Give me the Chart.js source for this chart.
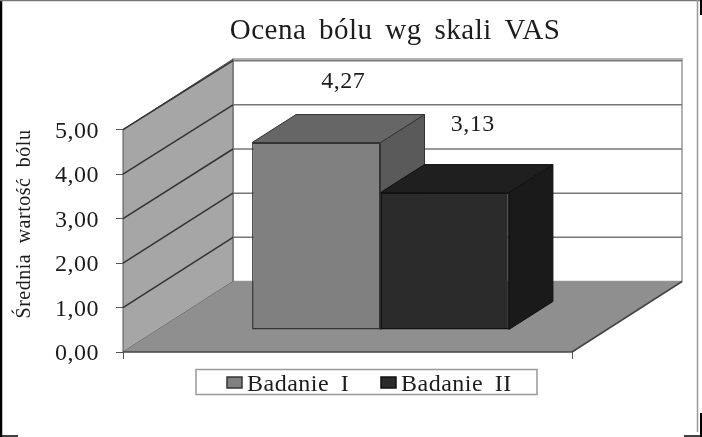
<!DOCTYPE html>
<html>
<head>
<meta charset="utf-8">
<script src="https://cdn.jsdelivr.net/npm/chart.js@4"></script>
<style>
  html, body { margin: 0; padding: 0; background: #fff; }
  #wrap { width: 702px; height: 437px; position: relative; }
</style>
</head>
<body>
<div id="wrap"><canvas id="vasChart"></canvas></div>
<script>
const chartTitle = 'Ocena bólu wg skali VAS';
const yAxisTitle = 'Średnia wartość bólu';
const categories = ['Ocena'];
const seriesNames = ['Badanie I', 'Badanie II'];
const seriesValues = [[4.27], [3.13]];
const yTicks = [0, 1, 2, 3, 4, 5];

const SERIF = '"Liberation Serif", serif';
const TEXT = '#1c1c1c';

// 3D look: how far the walls and the bars are pushed back
const wallDepth = { x: 110, y: -70.5 };
const barShift = { x: 33, y: -22 };
const barDepth = { x: 44, y: -28 };
const barScale = 0.987;
const labelShift = [{ x: 27, y: -61 }, { x: 28, y: -68 }];

const barColors = [
  { front: '#808080', top: '#666666', side: '#5a5a5a', line: '#333333' },
  { front: '#2b2b2b', top: '#1f1f1f', side: '#1a1a1a', line: '#111111' }
];

// legend is laid out by hand, the built-in one can't get this close swatch gap
const legendBox = { left: 196, right: 537, top: 369.5, bottom: 394.5 };
const legendSwatchX = [227, 381];
const legendTextX = [247, 401];

function poly(ctx, pts, fill, stroke, width) {
  ctx.beginPath();
  pts.forEach((p, i) => i ? ctx.lineTo(p[0], p[1]) : ctx.moveTo(p[0], p[1]));
  ctx.closePath();
  if (fill) { ctx.fillStyle = fill; ctx.fill(); }
  if (stroke) { ctx.strokeStyle = stroke; ctx.lineWidth = width || 1; ctx.stroke(); }
}

function line(ctx, x1, y1, x2, y2, color, width) {
  ctx.beginPath();
  ctx.moveTo(x1, y1);
  ctx.lineTo(x2, y2);
  ctx.strokeStyle = color;
  ctx.lineWidth = width;
  ctx.stroke();
}

// pixel box of a bar front, after it has been moved into the box
function barBox(bar) {
  const p = bar.getProps(['x', 'y', 'base', 'width'], true);
  const bottom = p.base + barShift.y;
  return {
    left: p.x - p.width / 2 + barShift.x,
    right: p.x + p.width / 2 + barShift.x,
    bottom: bottom,
    top: bottom - (p.base - p.y) * barScale
  };
}

// the original text is stretched sideways, spacing gets the widths right
function setSpacing(ctx) {
  ctx.letterSpacing = '0.5px';
  ctx.wordSpacing = '5px';
}

const box3d = {
  id: 'box3d',
  beforeLayout(chart) {
    setSpacing(chart.ctx);
  },
  afterLayout(chart) {
    // the title is not centred on the window in the original
    chart.titleBlock.left += 109;
    chart.titleBlock.right += 109;
  },
  beforeDraw(chart) {
    const { ctx } = chart;
    setSpacing(ctx);
    ctx.save();
    ctx.fillStyle = '#fff';
    ctx.fillRect(0, 0, chart.width, chart.height);
    // picture frame, heavy on the left, broken on the right
    line(ctx, 1, 0, 1, 437, '#000', 2.5);
    line(ctx, 0, 0.5, 702, 0.5, '#777', 1.5);
    line(ctx, 697.5, 0, 697.5, 432, '#999', 1.5);
    line(ctx, 701, 0, 701, 15, '#000', 2);
    line(ctx, 701, 413, 701, 437, '#000', 2);
    line(ctx, 0, 436, 18, 436, '#000', 1.5);
    line(ctx, 684, 436, 702, 436, '#000', 1.5);
    ctx.restore();
  },
  beforeDatasetsDraw(chart) {
    const { ctx, chartArea: a, scales: { y } } = chart;
    const dx = wallDepth.x, dy = wallDepth.y;
    ctx.save();
    // back wall
    poly(ctx, [[a.left + dx, a.top + dy], [a.right + dx, a.top + dy],
      [a.right + dx, a.bottom + dy], [a.left + dx, a.bottom + dy]], '#fff', '#999', 1.5);
    // side wall
    poly(ctx, [[a.left, a.top], [a.left + dx, a.top + dy],
      [a.left + dx, a.bottom + dy], [a.left, a.bottom]], '#a6a6a6', '#555', 1);
    // floor
    poly(ctx, [[a.left, a.bottom], [a.left + dx, a.bottom + dy],
      [a.right + dx, a.bottom + dy], [a.right, a.bottom]], '#8f8f8f');
    line(ctx, a.left, a.bottom, a.right, a.bottom, '#444', 1.5);
    line(ctx, a.right, a.bottom, a.right + dx, a.bottom + dy, '#444', 1.5);
    // grid lines run along the side wall, then across the back wall
    yTicks.slice(1).forEach(t => {
      const py = y.getPixelForValue(t);
      const back = py + dy + (a.bottom - py) * 0.007;
      line(ctx, a.left + dx, back, a.right + dx, back, '#777', 1.5);
      line(ctx, a.left, py, a.left + dx, back, '#333', 1.5);
    });
    // top and side faces first, second bar covers the first one's side
    seriesValues.forEach((vals, i) => {
      const b = barBox(chart.getDatasetMeta(i).data[0]);
      const c = barColors[i];
      const bx = barDepth.x, by = barDepth.y;
      poly(ctx, [[b.right, b.top], [b.right + bx, b.top + by], [b.right + bx, b.bottom + by], [b.right, b.bottom]], c.side, c.line, 1);
      poly(ctx, [[b.left, b.top], [b.left + bx, b.top + by], [b.right + bx, b.top + by], [b.right, b.top]], c.top, c.line, 1);
    });
    ctx.restore();
  },
  beforeDatasetDraw(chart, args) {
    const { ctx } = chart;
    // the front face is the library's own bar, moved back into the box
    const p = chart.getDatasetMeta(args.index).data[0].getProps(['base'], true);
    ctx.save();
    ctx.transform(1, 0, 0, barScale, barShift.x, barShift.y + p.base * (1 - barScale));
  },
  afterDatasetDraw(chart) {
    chart.ctx.restore();
  },
  afterDatasetsDraw(chart) {
    const { ctx } = chart;
    ctx.save();
    ctx.font = '24px ' + SERIF;
    ctx.fillStyle = TEXT;
    ctx.textAlign = 'center';
    ctx.textBaseline = 'middle';
    seriesValues.forEach((vals, i) => {
      const b = barBox(chart.getDatasetMeta(i).data[0]);
      ctx.fillText(vals[0].toFixed(2).replace('.', ','),
        (b.left + b.right) / 2 + labelShift[i].x, b.top + labelShift[i].y);
    });
    // legend
    const lb = legendBox;
    poly(ctx, [[lb.left, lb.top], [lb.right, lb.top], [lb.right, lb.bottom], [lb.left, lb.bottom]], '#fff', '#999', 1.5);
    ctx.textAlign = 'left';
    ctx.textBaseline = 'alphabetic';
    seriesNames.forEach((name, i) => {
      const sx = legendSwatchX[i];
      poly(ctx, [[sx, 377], [sx + 15, 377], [sx + 15, 388], [sx, 388]], barColors[i].front, barColors[i].line, 1.5);
      ctx.fillStyle = TEXT;
      ctx.fillText(name, legendTextX[i], 390.5);
    });
    ctx.restore();
  }
};

new Chart(document.getElementById('vasChart'), {
  type: 'bar',
  data: {
    labels: categories,
    datasets: seriesNames.map((name, i) => ({
      label: name,
      data: seriesValues[i],
      backgroundColor: barColors[i].front,
      borderColor: barColors[i].line,
      borderWidth: 1.5,
      borderSkipped: false
    }))
  },
  options: {
    responsive: true,
    maintainAspectRatio: false,
    animation: false,
    categoryPercentage: 0.572,
    barPercentage: 1,
    layout: { padding: { left: 0, right: 130, top: 0, bottom: 77 } },
    plugins: {
      title: {
        display: true,
        text: chartTitle,
        color: TEXT,
        font: { family: SERIF, size: 29, weight: 'normal' },
        padding: { top: 14, bottom: 80.8 }
      },
      legend: { display: false },
      tooltip: { enabled: false }
    },
    scales: {
      x: {
        afterFit(scale) { scale.height = 8; },
        grid: { drawOnChartArea: false, color: '#555', tickLength: 7 },
        border: { display: false },
        ticks: { display: false }
      },
      y: {
        min: 0,
        max: 5,
        afterBuildTicks(scale) { scale.ticks = yTicks.map(v => ({ value: v })); },
        afterFit(scale) { scale.width = 123; },
        title: {
          display: true,
          text: yAxisTitle,
          align: 'end',
          color: TEXT,
          font: { family: SERIF, size: 20 },
          padding: { top: 13, bottom: 0 }
        },
        grid: { drawOnChartArea: false, color: '#555', tickLength: 7 },
        border: { display: false },
        ticks: {
          color: TEXT,
          font: { family: SERIF, size: 24 },
          padding: 17,
          labelOffset: 2,
          callback: v => v.toFixed(2).replace('.', ',')
        }
      }
    }
  },
  plugins: [box3d]
});
</script>
</body>
</html>
